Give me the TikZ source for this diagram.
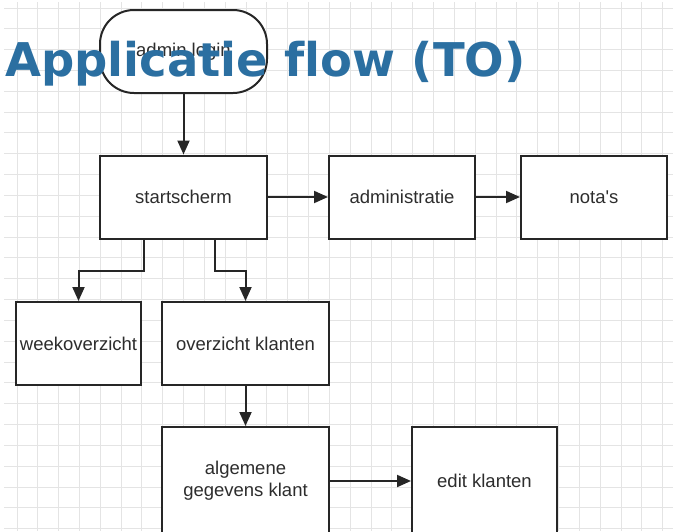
\documentclass[tikz,border=0pt]{standalone}
\usepackage{fontspec}
\setmainfont{Liberation Sans}
\newfontfamily\titlefont[Ligatures=CommonOff]{DejaVu Sans}
\usepackage{xcolor}
\usetikzlibrary{positioning,arrows.meta,calc}
\definecolor{titleblue}{RGB}{43,111,161}
\definecolor{gridgray}{RGB}{228,228,228}
\definecolor{textgray}{RGB}{45,45,45}

\begin{document}
\begin{tikzpicture}[
    x=1pt, y=-1pt,
    font=\fontsize{18.5}{22}\selectfont,
    box/.style={
        draw=black!85,
        line width=2pt,
        fill=white,
        text=textgray,
        minimum height=83pt,
        align=center
    },
    pill/.style={
        box,
        rounded corners=34pt
    },
    arr/.style={-{Triangle[length=14pt,width=12pt]}, line width=2pt, draw=black!85}
]
\useasboundingbox (0,0) rectangle (673,531);

% grid
\foreach \i in {0,...,31}
    \draw[gridgray, line width=1pt] (17+20.83*\i,2) -- (17+20.83*\i,531);
\foreach \j in {0,...,25}
    \draw[gridgray, line width=1pt] (4,8+20.83*\j) -- (673,8+20.83*\j);

\node[pill, minimum width=167pt] (login) at (183.5,51.5) {admin login};

\node[box, minimum width=167pt] (start) at (183.5,197) {startscherm};
\node[box, minimum width=146pt] (admin) at (402,197) {administratie};
\node[box, minimum width=146pt] (nota) at (594,197) {nota\textquotesingle s};

\node[box, minimum width=125pt] (week) at (78.5,343.5) {weekoverzicht};
\node[box, minimum width=167pt] (overz) at (245.5,343.5) {overzicht klanten};

\node[box, minimum width=167pt, minimum height=108pt] (algem) at (245.5,481)
    {algemene\\gegevens klant};
\node[box, minimum width=145pt, minimum height=108pt] (edit) at (484.5,481)
    {edit klanten};

\draw[arr] (login) -- (start);
\draw[arr] (start) -- (admin);
\draw[arr] (admin) -- (nota);
\draw[arr] ([xshift=-39.5pt]start.south) -- ++(0,31) -| (week.north);
\draw[arr] ([xshift=31.5pt]start.south) -- ++(0,31) -| (overz.north);
\draw[arr] (overz) -- (algem);
\draw[arr] (algem) -- (edit);

\node[anchor=base west, inner sep=0pt, text=titleblue,
      font=\titlefont\bfseries\fontsize{46.5}{50}\selectfont] (title) at (5,76)
    {Applicatie flow (TO)};

\end{tikzpicture}
\end{document}
